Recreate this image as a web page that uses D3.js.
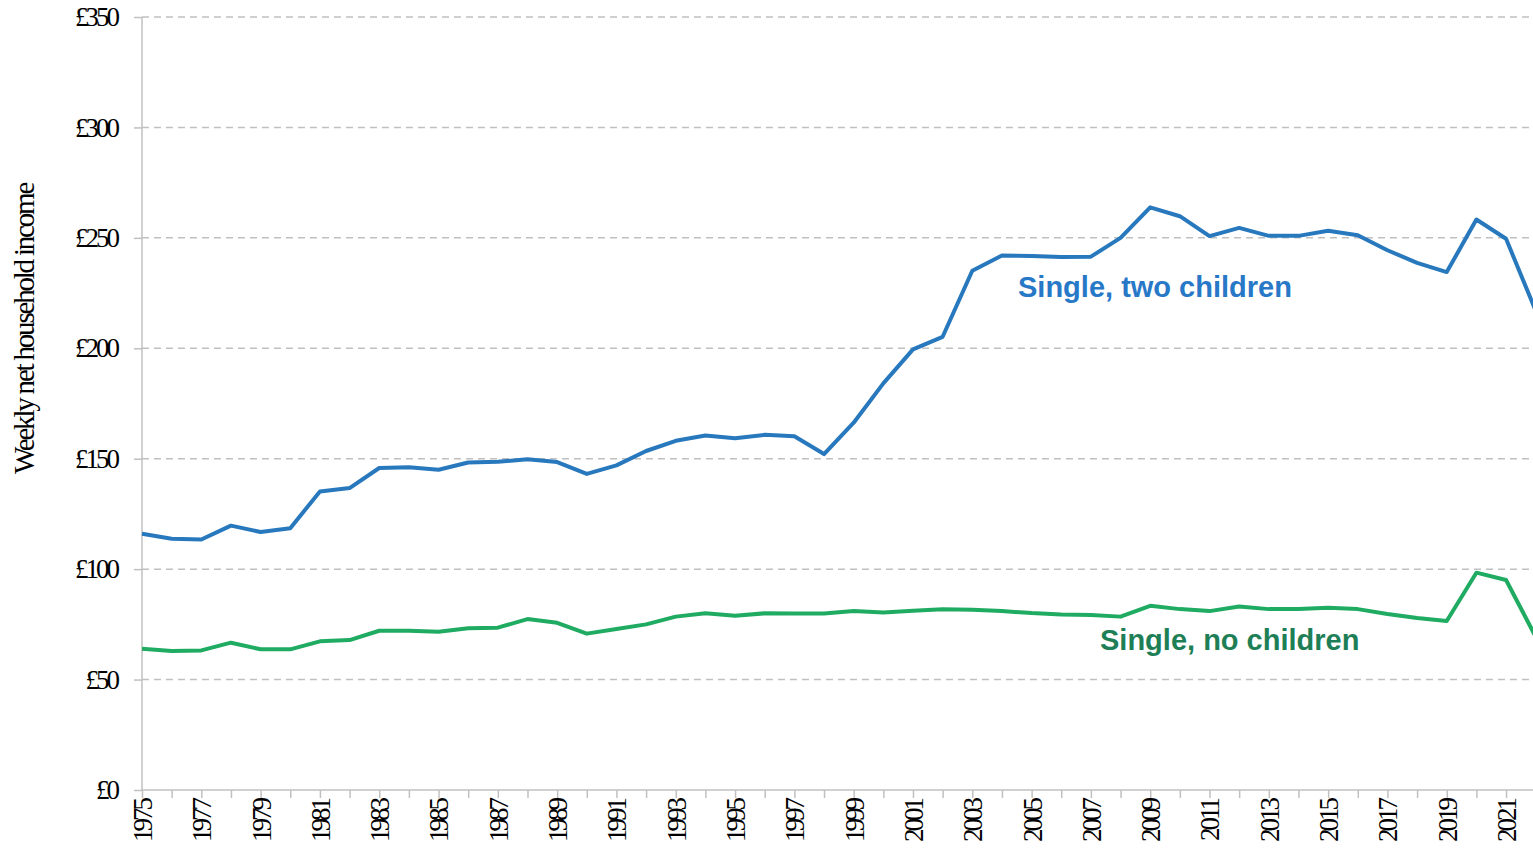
<!DOCTYPE html>
<style>
  body { margin: 0; background: #fff; }
  .tick text { font-family: "Liberation Serif", serif; }
</style>
<svg width="1533" height="849"></svg>
<script src="https://d3js.org/d3.v7.min.js"></script>
<script>
    var years = d3.range(1975, 2023);
    var singleTwoChildren = [116, 113.8, 113.4, 119.7, 116.8, 118.5, 135.2, 136.7, 145.8, 146.1,
        145, 148.3, 148.6, 149.8, 148.5, 143.1, 147, 153.5, 158.1, 160.5,
        159.3, 160.8, 160.2, 152.1, 166.3, 184.1, 199.5, 205.2, 235.1, 242,
        241.8, 241.3, 241.5, 250, 263.8, 259.8, 250.8, 254.5, 250.9, 250.9,
        253.2, 251.2, 244.4, 238.7, 234.5, 258.3, 249.6, 217];
    var singleNoChildren = [64, 62.9, 63.2, 66.7, 63.7, 63.7, 67.3, 67.9, 72.1, 72.1,
        71.7, 73.2, 73.5, 77.4, 75.7, 70.8, 72.9, 75, 78.5, 80,
        78.9, 80, 79.9, 79.9, 81, 80.4, 81.2, 81.8, 81.6, 81,
        80.1, 79.5, 79.2, 78.5, 83.4, 81.9, 81, 83.1, 81.9, 81.9,
        82.5, 81.9, 79.7, 77.9, 76.5, 98.4, 95.1, 69.4];
    var yTicks = [0, 50, 100, 150, 200, 250, 300, 350];

    var svg = d3.select("svg"),
        width = +svg.attr("width"),
        height = +svg.attr("height");

    var x = d3.scaleLinear()
        .domain([1975, 2022])
        .range([142, 1535.7]);

    var y = d3.scaleLinear()
        .domain([0, 350])
        .range([790, 17]);

    // gridlines
    svg.append("g")
        .selectAll("line")
        .data(yTicks.slice(1))
        .enter().append("line")
        .attr("x1", 142)
        .attr("x2", width)
        .attr("y1", function(d) { return y(d); })
        .attr("y2", function(d) { return y(d); })
        .attr("stroke", "#c0c0c0")
        .attr("stroke-width", 1.5)
        .attr("stroke-dasharray", "7,5");

    var yAxis = svg.append("g")
        .attr("transform", "translate(142,0)")
        .call(d3.axisLeft(y).tickValues(yTicks).tickSize(8).tickPadding(17)
            .tickFormat(function(d) { return "£" + d; }));
    yAxis.selectAll("line, path").attr("stroke", "#c0c0c0").attr("stroke-width", 1.5);
    yAxis.select(".domain").attr("d", "M0," + y(350) + "V" + y(0));
    yAxis.selectAll("text")
        .attr("font-size", 27)
        .attr("letter-spacing", "-3px")
        .attr("fill", "#000");

    var xAxis = svg.append("g")
        .attr("transform", "translate(0,790)")
        .call(d3.axisBottom(x).tickValues(years).tickSize(8)
            .tickFormat(function(d) { return d % 2 === 1 ? String(d) : ""; }));
    xAxis.selectAll("line, path").attr("stroke", "#c0c0c0").attr("stroke-width", 1.5);
    xAxis.select(".domain").attr("d", "M142,0H" + width);
    xAxis.selectAll("text")
        .attr("font-size", 27)
        .attr("letter-spacing", "-3px")
        .attr("fill", "#000")
        .attr("text-anchor", "end")
        .attr("dy", "0.35em")
        .attr("transform", "translate(0,2) rotate(-90)")
        .attr("x", -8)
        .attr("y", 0);

    svg.append("text")
        .attr("transform", "translate(34,329) rotate(-90)")
        .attr("text-anchor", "middle")
        .attr("font-family", "Liberation Serif, serif")
        .attr("font-size", 29)
        .attr("letter-spacing", "-2.2px")
        .text("Weekly net household income");

    var line = d3.line()
        .x(function(d, i) { return x(years[i]); })
        .y(function(d) { return y(d); });

    svg.append("path")
        .datum(singleTwoChildren)
        .attr("fill", "none")
        .attr("stroke", "#2878bd")
        .attr("stroke-width", 4)
        .attr("stroke-linejoin", "round")
        .attr("d", line);

    svg.append("path")
        .datum(singleNoChildren)
        .attr("fill", "none")
        .attr("stroke", "#20ab62")
        .attr("stroke-width", 4)
        .attr("stroke-linejoin", "round")
        .attr("d", line);

    svg.append("text")
        .attr("x", 1018)
        .attr("y", 297)
        .attr("font-family", "Liberation Sans, Arial, sans-serif")
        .attr("font-weight", "bold")
        .attr("font-size", 29)
        .attr("fill", "#2878c8")
        .text("Single, two children");

    svg.append("text")
        .attr("x", 1100)
        .attr("y", 650)
        .attr("font-family", "Liberation Sans, Arial, sans-serif")
        .attr("font-weight", "bold")
        .attr("font-size", 29)
        .attr("fill", "#1e7f57")
        .text("Single, no children");
</script>
